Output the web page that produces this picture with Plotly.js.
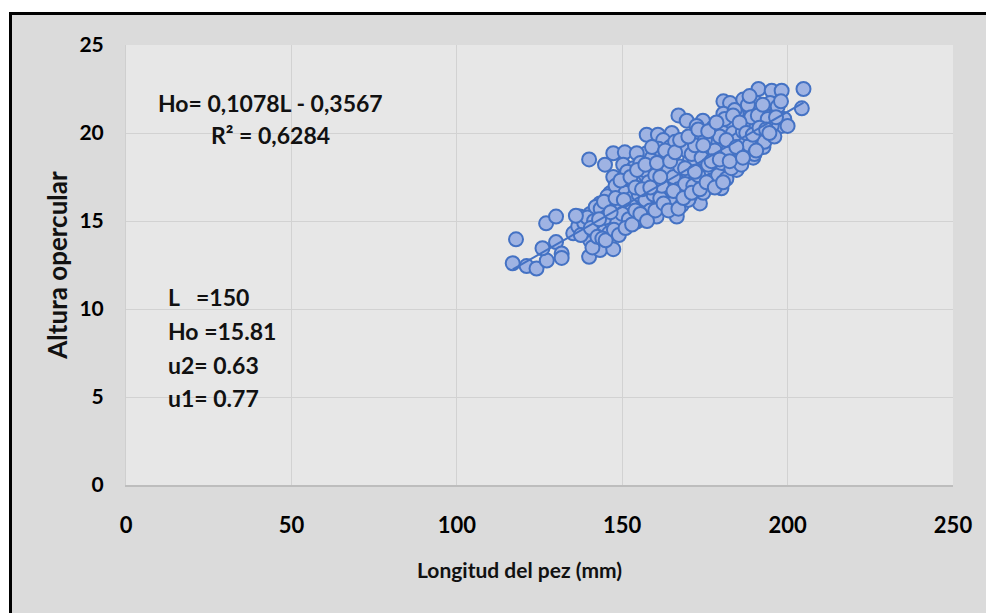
<!DOCTYPE html>
<html>
<head>
<meta charset="utf-8">
<script src="https://cdn.plot.ly/plotly-3.0.1.min.js"></script>
<style>html,body{margin:0;padding:0;background:#fff;}#chart{width:986px;height:613px;}</style>
</head>
<body>
<div id="chart"></div>
<script>
// Longitud del pez (mm)
const longitud = [
117.9,116.9,121.1,124.1,127.2,125.9,127.0,130.0,130.0,131.7,131.7,135.2,136.7,140.0,144.8,147.3,150.8,150.3,140.0,143.3,
147.3,140.3,157.4,160.8,165.0,167.0,169.5,174.4,180.6,182.6,191.2,195.2,198.2,204.8,204.3,198.2,195.2,195.2,190.6,190.1,
189.6,184.6,180.0,173.5,166.5,160.4,154.4,150.3,146.3,143.3,166.5,170.5,162.4,170.5,176.5,182.6,175.5,165.5,157.4,154.4,
150.3,146.3,143.3,140.3,137.2,157.4,160.4,163.4,172.5,178.5,184.6,186.6,192.7,188.6,186.6,153.4,162.4,172.5,180.6,168.5,
156.4,152.4,148.3,149.3,144.3,147.3,160.4,164.5,170.5,176.5,178.5,182.6,188.6,192.7,180.6,174.5,166.5,158.4,155.4,161.4,
154.4,169.5,174.5,164.5,172.5,184.6,186.6,190.6,194.7,193.7,152.4,145.3,141.3,139.3,166.5,171.5,176.5,180.6,182.6,186.6,
189.6,160.4,170.5,138.5,139.5,141.5,142.0,143.5,145.0,145.5,146.0,147.0,148.0,148.5,149.0,150.0,151.0,151.5,152.0,153.0,
153.5,154.0,155.0,155.5,156.0,156.5,157.0,158.0,158.5,159.0,159.5,160.0,161.0,161.5,162.0,163.0,163.5,164.0,165.0,165.5,
166.0,167.0,167.5,168.0,169.0,169.5,170.0,171.0,171.5,172.0,173.0,174.0,174.5,175.0,176.0,177.0,177.5,178.0,179.0,179.5,
180.0,181.0,181.5,182.0,183.0,183.5,184.0,185.0,186.0,186.5,187.0,188.0,188.5,189.0,190.0,191.0,192.0,193.0,194.0,196.0,
197.0,199.0,200.0,136.0,137.5,140.5,141.0,142.5,143.0,144.0,144.5,145.0,146.5,147.5,148.0,149.0,149.5,150.5,151.0,152.5,
153.0,154.0,154.5,155.5,156.0,157.0,157.5,158.5,159.0,160.0,160.5,161.5,162.5,163.0,164.0,164.5,165.5,166.0,167.0,167.5,
168.5,169.0,170.0,171.0,172.0,173.0,173.5,174.5,175.5,176.0,177.0,178.0,178.5,179.5,180.5,181.5,182.5,183.5,184.5,185.5,
186.5,187.5,188.5,189.5,190.5,191.5,192.5,193.5,194.5,196.5,198.0
];
// Altura opercular
const altura = [
13.96,12.60,12.44,12.30,12.75,13.45,14.87,15.25,13.80,13.16,12.90,14.30,14.70,18.50,18.20,18.85,18.90,18.20,12.97,13.35,
13.40,13.90,19.90,19.90,20.00,21.00,20.70,20.70,21.80,21.70,22.50,22.40,22.40,22.50,21.40,20.40,20.40,21.20,20.70,19.60,
18.60,18.75,16.86,16.00,15.25,15.25,14.96,14.87,14.70,14.50,16.40,17.50,18.30,18.50,19.40,20.55,20.00,18.85,18.85,16.95,
17.50,16.57,16.00,15.40,15.25,16.00,16.95,17.50,16.95,17.90,17.90,19.40,19.20,21.30,21.90,18.00,19.60,19.80,21.10,17.70,
17.50,16.00,15.60,16.40,15.40,17.50,17.90,16.80,16.40,16.95,18.85,19.40,20.20,21.10,20.00,18.30,18.10,16.57,15.60,16.00,
18.85,19.20,19.00,19.20,20.40,21.10,20.55,21.70,21.70,19.80,16.80,16.00,14.87,14.50,17.30,18.20,17.90,18.65,18.10,18.65,
19.20,18.85,19.20,14.90,15.20,15.00,15.80,15.70,15.20,16.40,14.30,15.90,17.00,14.90,16.00,15.40,16.60,17.80,15.10,16.30,
17.20,15.60,16.50,18.30,15.10,17.90,16.20,17.20,15.60,18.60,16.50,17.60,19.10,16.30,17.00,15.80,18.60,17.90,16.00,17.50,
19.50,16.80,18.10,15.90,17.10,19.00,16.20,18.80,17.00,19.30,17.60,18.60,16.60,19.60,18.20,17.30,20.30,19.00,17.60,19.80,
18.30,20.80,17.40,19.00,18.00,20.00,21.30,19.60,18.20,20.10,18.90,21.60,19.30,20.90,18.80,21.00,20.00,19.50,20.80,19.80,
21.50,20.80,20.40,15.30,14.20,14.60,13.50,14.10,15.10,14.00,16.10,13.90,15.50,14.50,16.30,14.20,17.30,16.20,14.60,17.50,
14.80,16.90,17.90,15.40,16.80,18.20,15.00,16.90,19.20,15.60,18.30,17.50,16.00,19.00,15.60,18.40,16.70,18.90,15.70,19.60,
16.30,18.00,19.80,16.60,17.80,20.20,16.80,19.30,17.20,20.10,18.40,16.90,20.60,18.50,17.20,19.60,18.40,21.00,19.20,20.60,
18.60,20.00,22.10,19.90,19.00,20.30,21.60,20.20,20.00,20.90,21.80
];
// Linear trendline reported on the chart
const slope = 0.1078;
const intercept = -0.3567;
const xTicks = [0, 50, 100, 150, 200, 250];
const yTicks = [0, 5, 10, 15, 20, 25];
const xTitle = 'Longitud del pez (mm)';
const yTitle = 'Altura opercular';
const eqLines = ["Ho= 0,1078L - 0,3567", "R² = 0,6284"];
const infoLines = ["L\u00a0\u00a0\u00a0=150", "Ho =15.81", "u2= 0.63", "u1= 0.77"];

const xmin = Math.min(...longitud), xmax = Math.max(...longitud);
const fitX = [xmin, xmax];
const fitY = fitX.map(v => slope * v + intercept);

const FONT = 'Lato, "Open Sans", sans-serif';

const traces = [
  {
    type: 'scatter', mode: 'markers', x: longitud, y: altura,
    marker: {size: 14, color: '#9fb3e3', line: {color: '#4472c4', width: 2}},
    hoverinfo: 'x+y', showlegend: false
  },
  {
    type: 'scatter', mode: 'lines', x: fitX, y: fitY,
    line: {color: '#4472c4', width: 2}, hoverinfo: 'skip', showlegend: false
  }
];

const px = v => (v - 126) / 827;
const py = v => (485 - v) / 440;

const annotations = [];
const eqY = [21.7, 19.9];
eqLines.forEach((t, i) => annotations.push({
  xref: 'x', yref: 'y', x: 43.6, y: eqY[i], text: t, showarrow: false,
  xanchor: 'center', yanchor: 'middle',
  font: {family: FONT, size: 23, color: '#111', weight: 700}
}));
const infoY = [10.68, 8.75, 6.82, 4.94];
infoLines.forEach((t, i) => annotations.push({
  xref: 'x', yref: 'y', x: 12.1, y: infoY[i], text: t, showarrow: false,
  xanchor: 'left', yanchor: 'middle',
  font: {family: FONT, size: 23, color: '#111', weight: 700}
}));
// x-axis title (centred on the chart area, as in the original)
annotations.push({
  xref: 'paper', yref: 'paper', x: px(519), y: py(569), text: xTitle, showarrow: false,
  xanchor: 'center', yanchor: 'middle',
  font: {family: FONT, size: 21, color: '#111', weight: 700}
});

const layout = {
  width: 986, height: 613,
  margin: {l: 126, r: 33, t: 45, b: 128},
  paper_bgcolor: '#dbdbdb',
  plot_bgcolor: '#e7e7e7',
  font: {family: FONT, color: '#000'},
  xaxis: {
    range: [0, 250], tickvals: xTicks, ticktext: xTicks.map(String),
    showgrid: true, gridcolor: '#d2d2d2', gridwidth: 1,
    zeroline: false, showline: true, linecolor: '#bdbdbd', linewidth: 1.5,
    ticks: 'outside', ticklen: 20, tickcolor: 'rgba(0,0,0,0)',
    tickfont: {family: FONT, size: 22, color: '#000', weight: 700},
    fixedrange: true
  },
  yaxis: {
    range: [0, 25], tickvals: yTicks, ticktext: yTicks.map(String),
    showgrid: true, gridcolor: '#d2d2d2', gridwidth: 1,
    zeroline: false, showline: true, linecolor: '#cfcfcf', linewidth: 1,
    ticks: 'outside', ticklen: 17, tickcolor: 'rgba(0,0,0,0)',
    tickfont: {family: FONT, size: 21, color: '#000', weight: 700},
    title: {text: yTitle, standoff: 4,
            font: {family: FONT, size: 26, color: '#111', weight: 700}},
    fixedrange: true
  },
  annotations: annotations,
  shapes: [
    {type: 'rect', xref: 'paper', yref: 'paper', x0: px(-20), x1: px(9), y0: py(700), y1: py(-20),
     fillcolor: '#ffffff', line: {width: 0}},
    {type: 'rect', xref: 'paper', yref: 'paper', x0: px(-20), x1: px(1010), y0: py(12), y1: py(-20),
     fillcolor: '#ffffff', line: {width: 0}},
    {type: 'line', xref: 'paper', yref: 'paper', x0: px(10.5), x1: px(10.5), y0: py(700), y1: py(12),
     line: {color: '#000', width: 3}},
    {type: 'line', xref: 'paper', yref: 'paper', x0: px(9), x1: px(1010), y0: py(13.5), y1: py(13.5),
     line: {color: '#000', width: 3}}
  ]
};

Plotly.newPlot('chart', traces, layout, {displayModeBar: false, staticPlot: true});
</script>
</body>
</html>
